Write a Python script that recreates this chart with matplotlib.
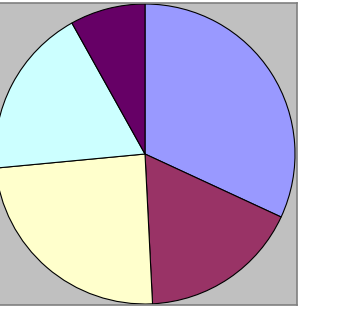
import matplotlib
matplotlib.use("Agg")
import matplotlib.pyplot as plt

# slice shares (percent), clockwise from 12 o'clock
labels = ["A", "B", "C", "D", "E"]
values = [31.9, 17.3, 24.3, 18.4, 8.1]
colors = ["#9999FF", "#993366", "#FFFFCC", "#CCFFFF", "#660066"]

W, H = 353, 309
fig = plt.figure(figsize=(W / 100, H / 100), dpi=100)
fig.patch.set_facecolor("white")

# plot area in pixels: x -2..297, y 3..305
x0, x1, ytop, ybot = -2, 297, 3, 305
ax = fig.add_axes([x0 / W, 1 - ybot / H, (x1 - x0) / W, (ybot - ytop) / H])

ax.pie(values, colors=colors, startangle=90, counterclock=False,
       center=(145, H - 154), radius=150, frame=True,
       wedgeprops=dict(edgecolor="black", linewidth=0.8))

ax.set_aspect("auto")
ax.set_xlim(x0, x1)
ax.set_ylim(H - ybot, H - ytop)
ax.set_facecolor("#C0C0C0")
ax.set_xticks([])
ax.set_yticks([])
for s in ax.spines.values():
    s.set_color("#808080")
    s.set_linewidth(1.2)

fig.savefig("out.png", dpi=100)
